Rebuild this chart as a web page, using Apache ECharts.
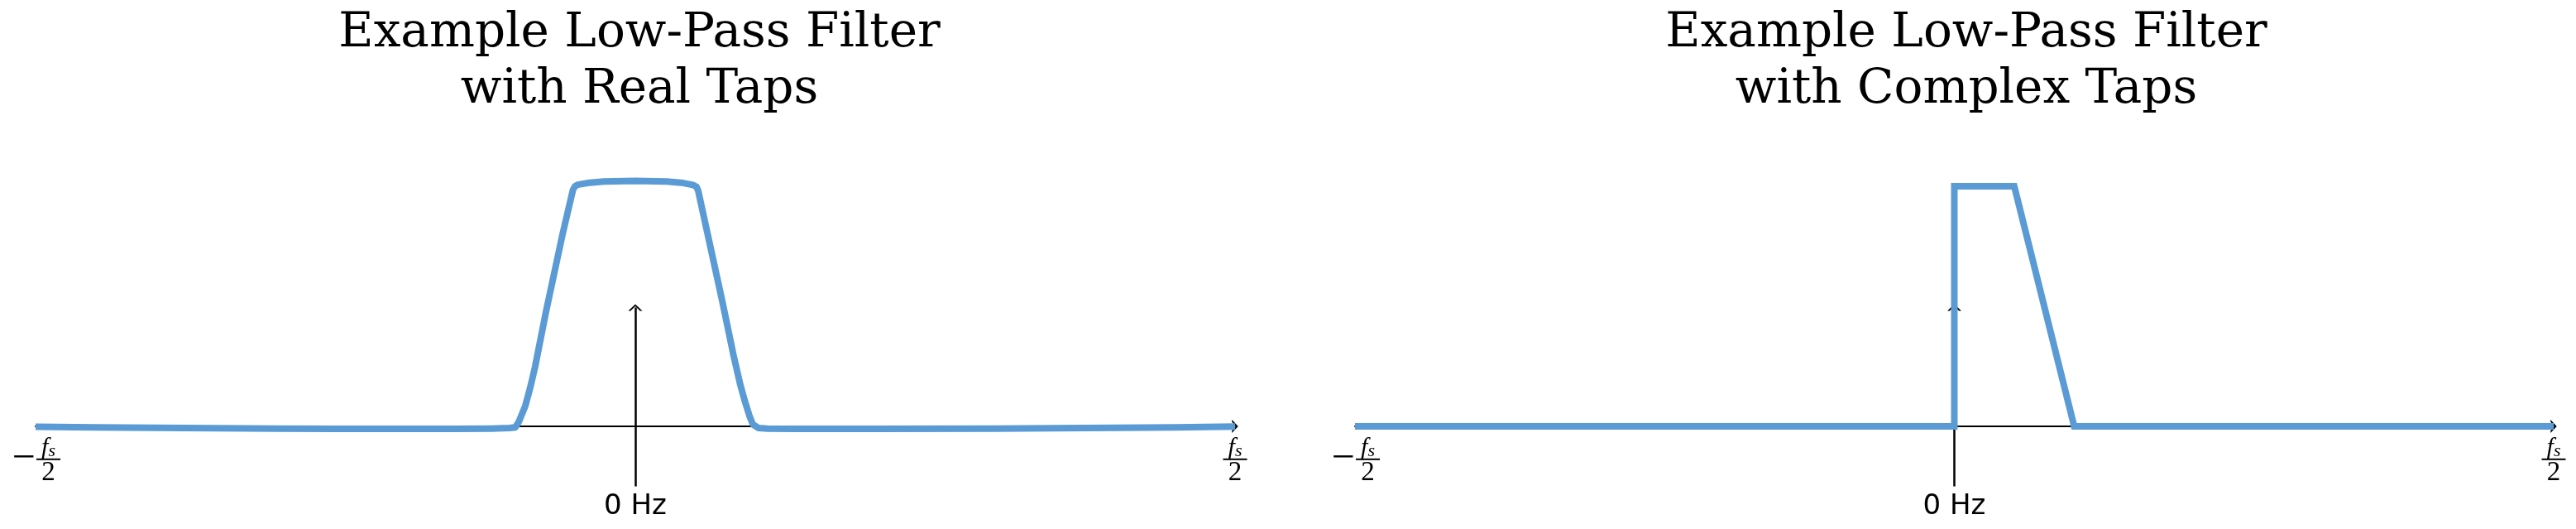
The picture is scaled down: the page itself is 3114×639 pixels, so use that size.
<!DOCTYPE html>
<html><head><meta charset="utf-8">
<script src="https://cdn.jsdelivr.net/npm/echarts@6/dist/echarts.min.js"></script>
<style>html,body{margin:0;padding:0;background:#fff}#c{width:3114px;height:639px}</style>
</head><body><div id="c"></div>
<script>
// ---- text ----
const titleLine1 = 'Example Low-Pass Filter';
const panelSubtitles = ['with Real Taps', 'with Complex Taps'];
const zeroLabel = '0 Hz';
const fsNumerator = 'f';
const fsSubscript = 's';
const fsDenominator = '2';
const minusSign = '\u2212';

// ---- axis ticks (normalised frequency f/fs) ----
const xTickValues = [-0.5, 0, 0.5];
const yArrowRange = [-0.245, 0.485];

// ---- real-tap filter response ----
const realFreq = [-0.5, -0.45, -0.4, -0.35, -0.3, -0.25, -0.2, -0.15, -0.12, -0.105, -0.1,
  -0.097, -0.0917, -0.0875, -0.0836, -0.0745, -0.0607, -0.052, -0.0503, -0.048, -0.04, -0.0262,
  0, 0.0262, 0.04, 0.048, 0.051, 0.0525, 0.0614, 0.0724, 0.082, 0.0875, 0.091, 0.095, 0.098,
  0.1028, 0.11, 0.132, 0.2, 0.3, 0.4, 0.45, 0.5];
const realMag = [-0.002, -0.004, -0.006, -0.008, -0.009, -0.010, -0.010, -0.010, -0.009, -0.007, -0.004,
  0.02, 0.084, 0.16, 0.242, 0.467, 0.783, 0.965, 0.980, 0.986, 0.993, 0.999,
  1.002, 0.999, 0.993, 0.985, 0.978, 0.96, 0.76, 0.513, 0.287, 0.17, 0.108, 0.045, 0.008,
  -0.007, -0.009, -0.010, -0.010, -0.009, -0.006, -0.004, -0.001];

// ---- complex-tap filter response ----
const complexFreq = [-0.5, 0, 0, 0.05, 0.1, 0.5];
const complexMag = [0, 0, 0.98, 0.98, 0, 0];

const BLUE = '#5B9BD5';
const chevron = 'path://M0,8 L8.5,0 L17,8 L14.2,8 L8.5,2.64 L2.8,8 Z';

function pairs(xs, ys) { return xs.map((x, i) => [x, ys[i]]); }

const rich = {
  f: { fontFamily: 'Liberation Serif', fontStyle: 'italic', fontSize: 30, color: '#000', lineHeight: 21, align: 'center' },
  s: { fontFamily: 'Liberation Serif', fontStyle: 'italic', fontSize: 22, color: '#000', height: 13, verticalAlign: 'bottom', align: 'center' },
  bar: { fontSize: 2, width: 29, height: 2, lineHeight: 6, backgroundColor: '#000', align: 'center' },
  m: { fontFamily: 'Liberation Serif', fontSize: 50, color: '#000', width: 31, height: 6, lineHeight: 6, align: 'center' },
  sp: { fontSize: 2, width: 31, align: 'center' },
  d: { fontFamily: 'Liberation Serif', fontSize: 33, color: '#000', lineHeight: 28, align: 'center' },
  hz: { fontFamily: 'DejaVu Sans', fontSize: 34, color: '#000', height: 34, padding: [64, 0, 0, 0], align: 'center' }
};

function tickFormatter(v) {
  if (v === xTickValues[0]) {
    return '{sp| }{f|' + fsNumerator + '}{s|' + fsSubscript + '}\n{m|' + minusSign + '}{bar| }\n{sp| }{d|' + fsDenominator + '}';
  }
  if (v === xTickValues[2]) {
    return '{f|' + fsNumerator + '}{s|' + fsSubscript + '}\n{bar| }\n{d|' + fsDenominator + '}';
  }
  if (v === xTickValues[1]) return '{hz|' + zeroLabel + '}';
  return '';
}

function makeX(gridIndex) {
  return {
    type: 'value', gridIndex, min: xTickValues[0], max: xTickValues[2], interval: 0.5,
    splitLine: { show: false }, axisTick: { show: false },
    axisLine: { show: true, onZero: true, lineStyle: { color: '#000', width: 2 },
      symbol: ['none', chevron], symbolSize: [16, 8] },
    axisLabel: { show: true, margin: -73, showMinLabel: true, showMaxLabel: true,
      formatter: tickFormatter, rich }
  };
}
function makeY(gridIndex) {
  return { type: 'value', gridIndex, min: -0.3, max: 1.1, show: false,
    splitLine: { show: false }, axisLine: { show: false } };
}
function arrowSeries(idx) {
  return {
    type: 'line', xAxisIndex: idx, yAxisIndex: idx, data: [], z: 1, silent: true,
    markLine: {
      silent: true, z: 1, animation: false,
      symbol: ['none', chevron], symbolSize: [17, 8],
      lineStyle: { color: '#000', width: 2.5, type: 'solid' },
      label: { show: false },
      data: [[{ coord: [0, yArrowRange[0]] }, { coord: [0, yArrowRange[1]] }]]
    }
  };
}

const titleStyle = { fontFamily: 'DejaVu Serif', fontSize: 58, fontWeight: 'normal', lineHeight: 68, color: '#000' };
const chart = echarts.init(document.getElementById('c'), null, { renderer: 'canvas' });
chart.setOption({
  backgroundColor: '#fff',
  animation: false,
  title: [
    { text: titleLine1 + '\n' + panelSubtitles[0], left: 773, top: 7, textAlign: 'center', padding: 0, textStyle: titleStyle },
    { text: titleLine1 + '\n' + panelSubtitles[1], left: 2377, top: 7, textAlign: 'center', padding: 0, textStyle: titleStyle }
  ],
  grid: [
    { left: 43, width: 1450, top: 189.4, height: 414.4, containLabel: false, outerBoundsMode: 'none' },
    { left: 1638, width: 1449, top: 189.4, height: 414.4, containLabel: false, outerBoundsMode: 'none' }
  ],
  xAxis: [makeX(0), makeX(1)],
  yAxis: [makeY(0), makeY(1)],
  series: [
    arrowSeries(0), arrowSeries(1),
    { type: 'line', xAxisIndex: 0, yAxisIndex: 0, z: 5, data: pairs(realFreq, realMag),
      showSymbol: false, symbol: 'none', lineStyle: { color: BLUE, width: 8, join: 'round' } },
    { type: 'line', xAxisIndex: 1, yAxisIndex: 1, z: 5, data: pairs(complexFreq, complexMag),
      showSymbol: false, symbol: 'none', lineStyle: { color: BLUE, width: 8, join: 'miter' } }
  ]
});
</script>
</body></html>
